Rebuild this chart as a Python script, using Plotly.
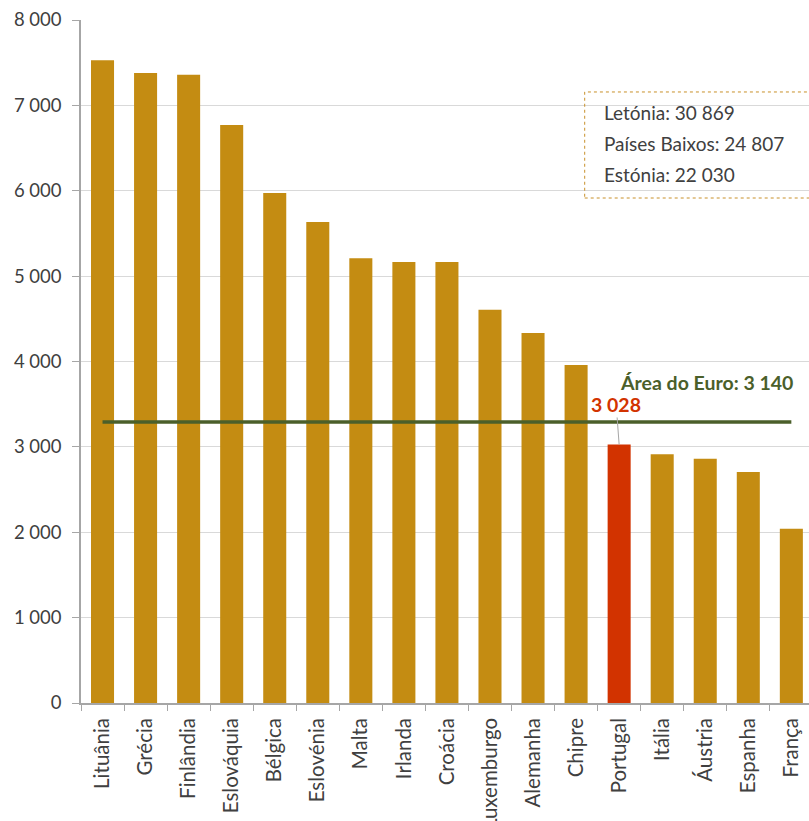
import plotly.graph_objects as go

countries = ["Lituânia", "Grécia", "Finlândia", "Eslováquia", "Bélgica", "Eslovénia",
             "Malta", "Irlanda", "Croácia", "Luxemburgo", "Alemanha", "Chipre",
             "Portugal", "Itália", "Áustria", "Espanha", "França"]
values = [7530, 7380, 7360, 6770, 5975, 5635, 5210, 5165, 5165, 4605, 4335, 3960,
          3028, 2915, 2860, 2705, 2040]
highlight = "Portugal"
euro_line_level = 3290
euro_label_value = "3 140"
outliers = ["Letónia: 30 869", "Países Baixos: 24 807", "Estónia: 22 030"]
y_ticks = [0, 1000, 2000, 3000, 4000, 5000, 6000, 7000, 8000]
y_tick_text = ["0", "1 000", "2 000", "3 000", "4 000", "5 000", "6 000", "7 000", "8 000"]

GOLD = "#C48C12"
RED = "#D23300"
GREEN = "#4B5F2A"
TXT = "#404040"
FONT = "Lato"

colors = [RED if c == highlight else GOLD for c in countries]

fig = go.Figure()
fig.add_trace(go.Bar(x=countries, y=values, marker=dict(color=colors, line=dict(width=0)),
                     hoverinfo="x+y"))
fig.add_trace(go.Scatter(x=[countries[0], countries[-1]], y=[euro_line_level] * 2,
                         mode="lines", line=dict(color=GREEN, width=3.5), hoverinfo="skip"))

fig.update_layout(
    width=809, height=821,
    margin=dict(l=81, r=0, t=20, b=118),
    paper_bgcolor="white", plot_bgcolor="white",
    showlegend=False, bargap=0.465,
    font=dict(family=FONT, color=TXT, size=19),
)
fig.update_yaxes(range=[0, 8000], tickvals=y_ticks, ticktext=y_tick_text, automargin=False,
                 showgrid=True, gridcolor="#D9D9D9", gridwidth=1,
                 showline=True, linecolor="#A6A6A6", linewidth=1.5,
                 ticks="outside", ticklen=7, tickcolor="#A6A6A6", ticklabelstandoff=7,
                 tickfont=dict(size=18.5, color=TXT), zeroline=False)
fig.update_xaxes(type="category", range=[-0.5, 16.41], tickangle=-90, automargin=False,
                 showline=True, linecolor="#A6A6A6", linewidth=1.5,
                 ticks="outside", ticklen=6, tickcolor="#A6A6A6", tickson="boundaries",
                 ticklabelstandoff=5,
                 tickfont=dict(size=20.5, color=TXT), showgrid=False)

# Portugal label with leader line
pi = countries.index(highlight)
fig.add_annotation(x=highlight, y=values[pi], text="<b>3 028</b>", showarrow=True,
                   arrowhead=0, arrowwidth=1, arrowcolor="#A6A6A6", ax=-3, ay=-40,
                   font=dict(color=RED, size=19.5, family=FONT))
# Euro area label
fig.add_annotation(x=countries[-1], y=euro_line_level, text="<b>Área do Euro: " + euro_label_value + "</b>",
                   showarrow=False, xanchor="right", yanchor="bottom", yshift=26, xshift=4,
                   font=dict(color=GREEN, size=19.5, family=FONT))
# Outlier box
fig.add_shape(type="rect", xref="x", yref="y", x0=11.2, x1=16.8, y0=5915, y1=7157,
              line=dict(color="#C8902A", width=1, dash="dot"), fillcolor="rgba(0,0,0,0)")
for i, t in enumerate(outliers):
    fig.add_annotation(xref="x", yref="y", x=11.6, y=6920 - i * 365, text=t, showarrow=False,
                       xanchor="left", yanchor="middle", font=dict(size=19, color=TXT, family=FONT))

fig.write_html("out.html", config={"displayModeBar": False},
               post_script="document.body.style.margin='0';")
